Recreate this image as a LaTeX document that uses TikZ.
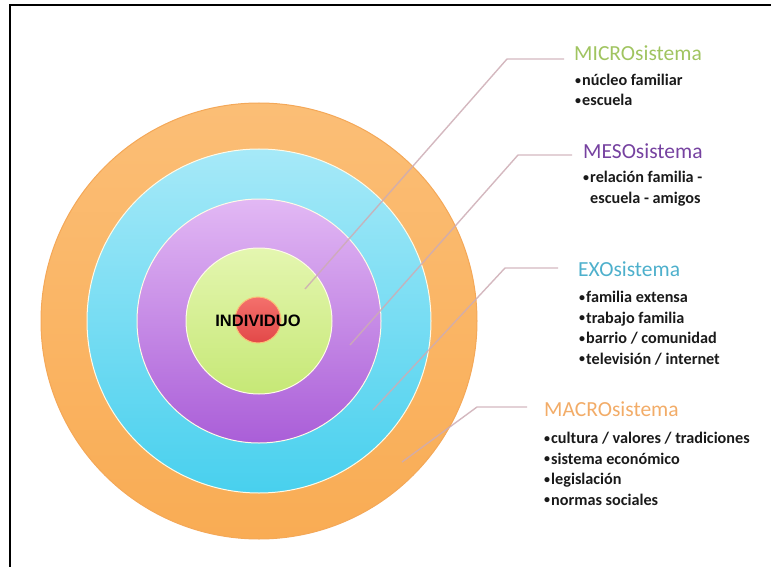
\documentclass[tikz,border=0pt]{standalone}
\definecolor{macrotop}{RGB}{251, 190, 118}
\definecolor{macrobot}{RGB}{249, 172, 84}
\definecolor{macroedge}{RGB}{244, 168, 88}
\definecolor{exotop}{RGB}{166, 233, 248}
\definecolor{exobot}{RGB}{72, 208, 238}
\definecolor{mesotop}{RGB}{226, 184, 244}
\definecolor{mesobot}{RGB}{170, 94, 216}
\definecolor{microtop}{RGB}{228, 246, 176}
\definecolor{microbot}{RGB}{198, 232, 118}
\definecolor{indtop}{RGB}{244, 112, 108}
\definecolor{indbot}{RGB}{226, 72, 72}
\definecolor{ringedge}{RGB}{255, 250, 232}
\definecolor{leadercol}{RGB}{205, 172, 180}
\definecolor{microcol}{RGB}{160, 196, 96}
\definecolor{mesocol}{RGB}{118, 66, 160}
\definecolor{exocol}{RGB}{78, 176, 204}
\definecolor{macrocol}{RGB}{242, 172, 104}
\definecolor{textdark}{RGB}{26, 26, 26}
\usepackage{fontspec}
\setmainfont{Carlito}
\newfontfamily\arialfont{Liberation Sans}
\usepackage{tikz}
\usetikzlibrary{positioning, calc}
\newcommand{\blt}{\makebox[7pt][l]{\raisebox{1.2pt}{\fontsize{12}{12}\selectfont\textbullet}}}
\tikzset{
  ring/.style={draw=ringedge, line width=1pt},
  leader/.style={draw=leadercol, line width=1.4pt, opacity=.85},
  systitle/.style={anchor=base west, inner sep=0pt, font=\fontsize{21.5}{24}\selectfont},
  itemlist/.style={anchor=base west, inner sep=0pt, align=left, text=textdark, font=\bfseries\fontsize{16.2}{20.5}\selectfont}
}

\begin{document}
\begin{tikzpicture}[x=1pt, y=-1pt]
  \useasboundingbox (0,0) rectangle (771,567);

  % Frame
  \draw[line width=2pt] (10,567) -- (10,5) -- (771,5);

  % Rings
  \coordinate (ctr) at (259,321);
  \shadedraw[draw=macroedge, line width=1pt, top color=macrotop, bottom color=macrobot] (ctr) circle[radius=218pt];
  \shadedraw[ring, top color=exotop, bottom color=exobot] (ctr) circle[radius=172pt];
  \shadedraw[ring, top color=mesotop, bottom color=mesobot] (ctr) circle[radius=122pt];
  \shadedraw[ring, top color=microtop, bottom color=microbot] (ctr) circle[radius=73pt];
  \shadedraw[draw=macrotop, line width=1pt, top color=indtop, bottom color=indbot] (258,320) circle[radius=23pt];
  \node[inner sep=0pt, font=\arialfont\bfseries\fontsize{16.5}{16.5}\selectfont] (individuo) at (258,321) {INDIVIDUO};

  % Labels (lists are placed by the baseline of their last line)
  \node[systitle, text=microcol] (microtitle) at (574,61) {MICROsistema};
  \node[itemlist] (microlist) at (575,106) {\blt núcleo familiar\\ \blt escuela};

  \node[systitle, text=mesocol] (mesotitle) at (583,158) {MESOsistema};
  \node[itemlist] (mesolist) at (583,203) {\blt relación familia -\\ \hspace*{7pt}escuela - amigos};

  \node[systitle, text=exocol] (exotitle) at (578,276) {EXOsistema};
  \node[itemlist] (exolist) at (579,364) {\blt familia extensa\\ \blt trabajo familia\\ \blt barrio / comunidad\\ \blt televisión / internet};

  \node[systitle, text=macrocol] (macrotitle) at (544,416) {MACROsistema};
  \node[itemlist] (macrolist) at (544,505) {\blt cultura / valores / tradiciones\\ \blt sistema económico\\ \blt legislación\\ \blt normas sociales};

  % Leaders
  \coordinate (microin) at (305,289);
  \coordinate (microbend) at (507,59);
  \coordinate (mesoin) at (350,345);
  \coordinate (mesobend) at (518,155);
  \coordinate (exoin) at (373,410);
  \coordinate (exobend) at (505,268);
  \coordinate (macroin) at (402,462);
  \coordinate (macrobend) at (477,407);
  \draw[leader, shorten >=10pt] (microin) -- (microbend) -- (microbend -| microtitle.west);
  \draw[leader, shorten >=11pt] (mesoin) -- (mesobend) -- (mesobend -| mesotitle.west);
  \draw[leader, shorten >=20pt] (exoin) -- (exobend) -- (exobend -| exotitle.west);
  \draw[leader, shorten >=17pt] (macroin) -- (macrobend) -- (macrobend -| macrotitle.west);
\end{tikzpicture}
\end{document}
